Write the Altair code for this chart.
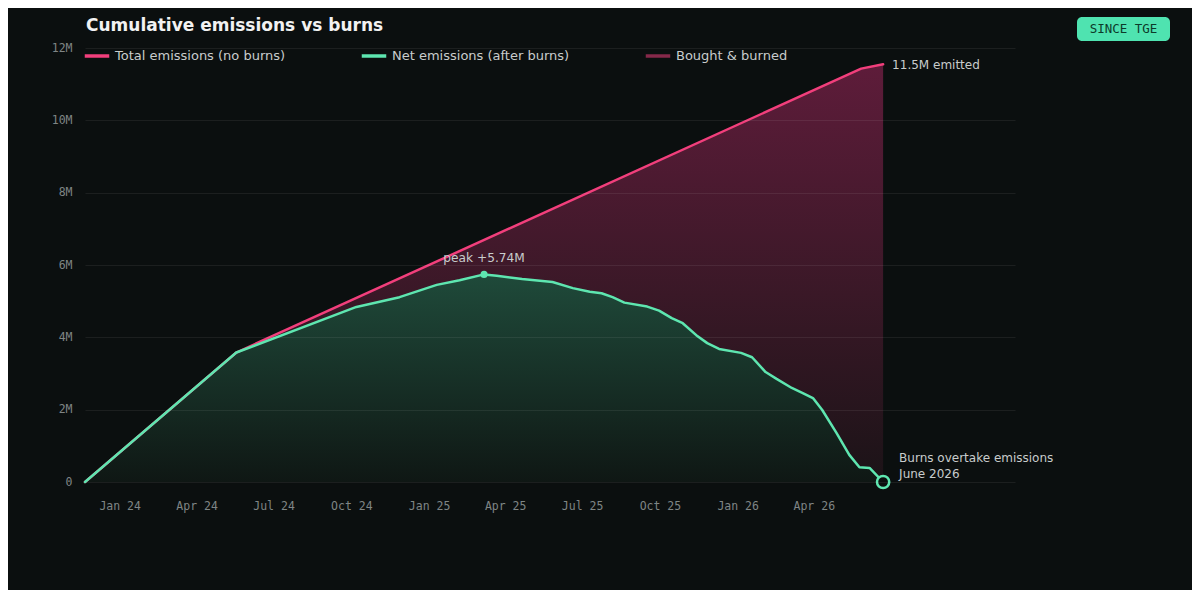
import altair as alt
import pandas as pd

BG = "#0b0f0f"
PINK = "#f23f7c"
GREEN = "#5ee6b0"
BURN = "#86294a"
TEXT = "#c8cccc"
AXIS = "#7f8585"

# ---- data (values in millions) ----
net_dates = ["2023-11-21", "2024-05-18", "2024-10-07", "2024-11-27", "2025-01-10",
             "2025-02-06", "2025-03-07", "2025-03-22", "2025-04-21", "2025-05-27",
             "2025-06-20", "2025-07-10", "2025-07-24", "2025-08-06", "2025-08-20",
             "2025-09-16", "2025-09-30", "2025-10-15", "2025-10-28", "2025-11-13",
             "2025-11-26", "2025-12-10", "2026-01-05", "2026-01-18", "2026-02-03",
             "2026-02-16", "2026-03-06", "2026-03-19", "2026-03-31", "2026-04-11",
             "2026-04-28", "2026-05-13", "2026-05-25", "2026-06-06", "2026-06-22"]
net_values = [0, 3.58, 4.84, 5.11, 5.45, 5.58, 5.74, 5.70, 5.61, 5.53,
              5.36, 5.26, 5.22, 5.11, 4.96, 4.85, 4.74, 4.53, 4.39, 4.06,
              3.84, 3.68, 3.57, 3.45, 3.04, 2.85, 2.60, 2.46, 2.32, 1.99,
              1.35, 0.75, 0.41, 0.39, 0]

total_dates = ["2023-11-21", "2024-05-18", "2026-05-27", "2026-06-22"]
total_values = [0, 3.58, 11.43, 11.55]

series_names = ["Total emissions (no burns)", "Net emissions (after burns)", "Bought & burned"]
series_colors = [PINK, GREEN, BURN]

y_ticks = [0, 2, 4, 6, 8, 10, 12]
x_ticks = [(2024, 1), (2024, 4), (2024, 7), (2024, 10), (2025, 1), (2025, 4),
           (2025, 7), (2025, 10), (2026, 1), (2026, 4)]

peak_label = "peak +5.74M"
peak_date = "2025-03-07"
peak_value = 5.74
total_label = "11.5M emitted"
cross_date = "2026-06-22"
cross_lines = ["Burns overtake emissions", "June 2026"]
badge_text = "SINCE TGE"
title_text = "Cumulative emissions vs burns"

# ---- frames ----
net_df = pd.DataFrame({"date": pd.to_datetime(net_dates), "value": net_values,
                       "series": series_names[1]})
total_df = pd.DataFrame({"date": pd.to_datetime(total_dates), "value": total_values,
                         "series": series_names[0]})
lines_df = pd.concat([total_df, net_df], ignore_index=True)
peak_df = pd.DataFrame({"date": pd.to_datetime([peak_date]), "value": [peak_value],
                        "label": [peak_label]})
total_end_df = pd.DataFrame({"date": pd.to_datetime([total_dates[-1]]),
                             "value": [total_values[-1]], "label": [total_label]})
cross_df = pd.DataFrame({"date": pd.to_datetime([cross_date]), "value": [0],
                         "l1": [cross_lines[0]], "l2": [cross_lines[1]]})
one = pd.DataFrame({"k": [0]})

x_scale = alt.Scale(domain=[alt.DateTime(year=2023, month=11, date=21),
                            alt.DateTime(year=2026, month=11, date=25)])
x_enc = alt.X("date:T", scale=x_scale, title=None,
              axis=alt.Axis(values=[alt.DateTime(year=y, month=m, date=1) for y, m in x_ticks],
                            format="%b %y", grid=False, domain=False, ticks=False,
                            labelPadding=18, labelFont="DejaVu Sans Mono",
                            labelFontSize=11.5, labelColor=AXIS))
y_enc = alt.Y("value:Q", scale=alt.Scale(domain=[0, 12], nice=False), title=None,
              axis=alt.Axis(values=y_ticks, grid=True, gridColor="#ffffff", gridOpacity=0.07,
                            gridWidth=1, domain=False, ticks=False, labelPadding=13,
                            labelFont="DejaVu Sans Mono", labelFontSize=11.5,
                            labelColor=AXIS, zindex=1,
                            labelExpr="datum.value == 0 ? '0' : datum.value + 'M'"))

pink_area = alt.Chart(total_df).mark_area(
    fill=alt.Gradient(gradient="linear", x1=0, x2=0, y1=0, y2=1,
                      stops=[alt.GradientStop(color="#5e1c3a", offset=0),
                             alt.GradientStop(color="#3a1827", offset=0.55),
                             alt.GradientStop(color="#1b1317", offset=1)])
).encode(x=x_enc, y=y_enc)

green_area = alt.Chart(net_df).mark_area(
    fill=alt.Gradient(gradient="linear", x1=0, x2=0, y1=0, y2=1,
                      stops=[alt.GradientStop(color="#1f4a3a", offset=0),
                             alt.GradientStop(color="#0f1714", offset=1)])
).encode(x=x_enc, y=y_enc)

lines = alt.Chart(lines_df).mark_line(strokeWidth=2.5, strokeJoin="round", strokeCap="round").encode(
    x=x_enc, y=y_enc,
    color=alt.Color("series:N", title=None,
                    scale=alt.Scale(domain=series_names, range=series_colors),
                    legend=alt.Legend(orient="none", legendX=-2, legendY=-6, direction="horizontal",
                                      symbolType="stroke", symbolSize=600, symbolStrokeWidth=3.5,
                                      labelFont="DejaVu Sans", labelFontSize=13, labelColor=TEXT,
                                      labelOffset=4, columnPadding=68, labelLimit=400))
)

peak_pt = alt.Chart(peak_df).mark_circle(size=50, color=GREEN, opacity=1).encode(x=x_enc, y=y_enc)
peak_txt = alt.Chart(peak_df).mark_text(dy=-16, align="center", baseline="middle",
                                        font="DejaVu Sans", fontSize=12.2, color=TEXT).encode(
    x=x_enc, y=y_enc, text="label:N")
total_txt = alt.Chart(total_end_df).mark_text(dx=9, dy=1, align="left", baseline="middle",
                                              font="DejaVu Sans", fontSize=12, color=TEXT).encode(
    x=x_enc, y=y_enc, text="label:N")
cross_pt = alt.Chart(cross_df).mark_circle(size=150, fill=BG, stroke=GREEN, strokeWidth=2.5,
                                           opacity=1).encode(x=x_enc, y=y_enc)
cross_t1 = alt.Chart(cross_df).mark_text(dx=16, dy=-24, align="left", baseline="middle",
                                         font="DejaVu Sans", fontSize=12, color=TEXT).encode(
    x=x_enc, y=y_enc, text="l1:N")
cross_t2 = alt.Chart(cross_df).mark_text(dx=16, dy=-8, align="left", baseline="middle",
                                         font="DejaVu Sans", fontSize=12, color=TEXT).encode(
    x=x_enc, y=y_enc, text="l2:N")

title = alt.Chart(one).mark_text(align="left", baseline="middle", font="DejaVu Sans",
                                 fontSize=17, fontWeight="bold", color="#f2f2f2",
                                 text=title_text).encode(x=alt.value(1), y=alt.value(-22))
badge = alt.Chart(one).mark_rect(cornerRadius=5, color="#4fe3b0").encode(
    x=alt.value(992), x2=alt.value(1085), y=alt.value(-31), y2=alt.value(-7))
badge_t = alt.Chart(one).mark_text(align="center", baseline="middle", font="DejaVu Sans Mono",
                                   fontSize=12.5, color="#0d3a2a", text=badge_text).encode(
    x=alt.value(1038.5), y=alt.value(-19))

chart = alt.layer(pink_area, green_area, lines, peak_pt, peak_txt, total_txt, cross_pt,
                  cross_t1, cross_t2, title, badge, badge_t).properties(
    width=930, height=434, background=BG,
    padding={"left": 77, "top": 40, "right": 177, "bottom": 108},
    autosize=alt.AutoSizeParams(type="none"),
).configure_view(stroke="transparent")

chart.save("out.html", embed_options={"renderer": "svg", "actions": False})
